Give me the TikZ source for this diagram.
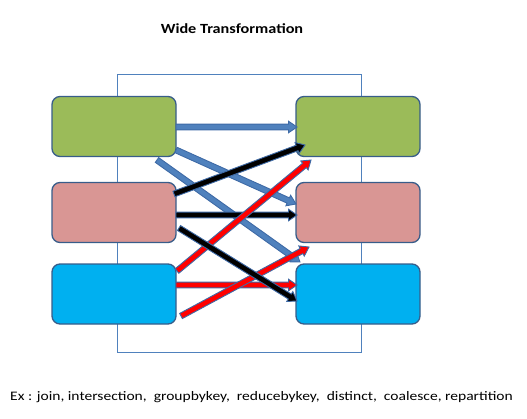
\documentclass[tikz,border=0pt]{standalone}
\usepackage{fontspec}
\setmainfont{Carlito}
\usetikzlibrary{calc}
\definecolor{boxline}{HTML}{385D8A}
\definecolor{frameline}{HTML}{4F81BD}
\definecolor{arrblue}{HTML}{4F81BD}
\definecolor{arrline}{HTML}{3E6AA6}
\definecolor{cgreen}{HTML}{9BBB59}
\definecolor{cpink}{HTML}{D99694}
\definecolor{ccyan}{HTML}{00B0F0}
\tikzset{
  box/.style={draw=boxline, line width=1.3pt, rounded corners=8pt, minimum width=124pt, minimum height=60pt, inner sep=0pt},
  blockline/.style={draw=arrline, line width=0.9pt, line join=miter},
}
\newcommand\blockarr[3]{%
  \coordinate (hh) at ($(#2)!8.5pt!(#1)$);
  \path[blockline, fill=#3] ($(#1)!2.9pt!90:(#2)$) -- ($(hh)!2.9pt!-90:(#1)$) -- ($(hh)!5.8pt!-90:(#1)$) -- (#2) -- ($(hh)!5.8pt!90:(#1)$) -- ($(hh)!2.9pt!90:(#1)$) -- ($(#1)!2.9pt!-90:(#2)$) -- cycle;
}
\begin{document}
\begin{tikzpicture}[x=1pt,y=-1pt]
\useasboundingbox (0,0) rectangle (527,418);
\node[font=\bfseries\fontsize{14}{16}\selectfont] (title) at (232,29) {\scalebox{1.16}[1]{Wide Transformation}};
\node (frame) [draw=frameline, line width=0.7pt, minimum width=244pt, minimum height=278pt, inner sep=0pt] at (239,213) {};
\node[box, fill=cgreen] (l1) at (114,126.5) {};
\node[box, fill=cpink] (l2) at (114,212.5) {};
\node[box, fill=ccyan] (l3) at (114,294) {};
\node[box, fill=cgreen] (r1) at (358,126.5) {};
\node[box, fill=cpink] (r2) at (358,212.5) {};
\node[box, fill=ccyan] (r3) at (358,294) {};
\coordinate (s1) at (176,127); \coordinate (t1) at (297,127);
\coordinate (s2) at (176,150); \coordinate (t2) at (296,204);
\coordinate (s3) at (157,160); \coordinate (t3) at (300,262);
\coordinate (s4) at (174,194); \coordinate (t4) at (305,145);
\coordinate (s5) at (176,215); \coordinate (t5) at (297,215);
\coordinate (s6) at (179,228); \coordinate (t6) at (297,301);
\coordinate (s7) at (177,271); \coordinate (t7) at (311,160);
\coordinate (s8) at (176,285); \coordinate (t8) at (297,285);
\coordinate (s9) at (181,316); \coordinate (t9) at (309,247);
\blockarr{s1}{t1}{arrblue}
\blockarr{s2}{t2}{arrblue}
\blockarr{s3}{t3}{arrblue}
\blockarr{s5}{t5}{black}
\blockarr{s4}{t4}{black}
\blockarr{s8}{t8}{red}
\blockarr{s7}{t7}{red}
\blockarr{s9}{t9}{red}
\blockarr{s6}{t6}{black}
\node[font=\fontsize{13}{16}\selectfont, anchor=west, inner sep=0pt] (ex) at (10,397) {\scalebox{1.196}[1]{Ex : join, intersection, \ groupbykey, \ reducebykey, \ distinct, \ coalesce, repartition}};
\end{tikzpicture}
\end{document}
